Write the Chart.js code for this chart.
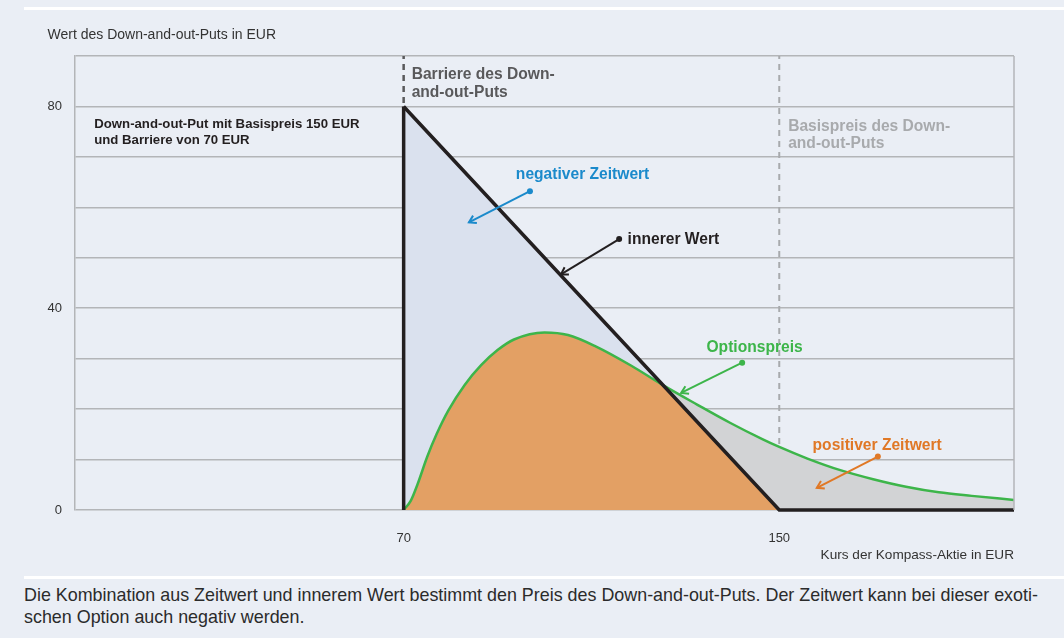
<!DOCTYPE html>
<html>
<head>
<meta charset="utf-8">
<script src="https://cdn.jsdelivr.net/npm/chart.js@4.4.0/dist/chart.umd.min.js"></script>
<style>
  html, body { margin: 0; padding: 0; background: #eaeef5; }
  body { width: 1064px; height: 638px; position: relative; overflow: hidden; font-family: "Liberation Sans", Arial, sans-serif; }
  .rule { position: absolute; left: 24px; right: 0; height: 3px; background: #fff; }
  #wrap { position: absolute; left: 0; top: 0; width: 1064px; height: 575px; }
  #caption { position: absolute; left: 24px; top: 584px; font-size: 17.9px; line-height: 22px; color: #2b2b2b; white-space: nowrap; }
</style>
</head>
<body>
<div class="rule" style="top:7px"></div>
<div id="wrap"><canvas id="chart"></canvas></div>
<div class="rule" style="top:576px"></div>
<div id="caption">Die Kombination aus Zeitwert und innerem Wert bestimmt den Preis des Down-and-out-Puts. Der Zeitwert kann bei dieser exoti-<br>schen Option auch negativ werden.</div>
<script>
// values (Kurs in EUR / Wert in EUR)
const innerX = [70, 150, 200];
const innerY = [80, 0, 0];
const barrierX = [70, 70];
const barrierY = [0, 80];
const optionX = [70, 71.5, 73, 75, 77, 79.5, 83, 86.5, 90, 93.5, 100, 105, 111, 118.5, 125.5, 132.5, 139.5, 146.5, 150, 156, 163, 170, 177, 184, 191, 200];
const optionY = [0, 1.8, 5.2, 10.5, 15, 19.7, 24.8, 28.7, 31.7, 33.8, 35.2, 34.7, 32.4, 28.6, 24.6, 20.9, 17.3, 14.0, 12.5, 10.2, 7.9, 6.1, 4.6, 3.5, 2.8, 2.0];
const barrierLevel = 70;
const strikeLevel = 150;
const xTicks = [70, 150];
const yTicks = [0, 40, 80];
const xRange = [0, 200];
const yRange = [0, 90];

const FONT = '"Liberation Sans", Arial, sans-serif';
const gridColor = '#b3b5b8';

Chart.defaults.font.family = FONT;
Chart.defaults.color = '#333';

const pts = (xs, ys) => xs.map((x, i) => ({ x: x, y: ys[i] }));

function arrow(ctx, x0, y0, x1, y1, color) {
    ctx.strokeStyle = color;
    ctx.fillStyle = color;
    ctx.lineWidth = 2;
    ctx.beginPath();
    ctx.moveTo(x0, y0);
    ctx.lineTo(x1, y1);
    ctx.stroke();
    ctx.beginPath();
    ctx.arc(x0, y0, 3, 0, Math.PI * 2);
    ctx.fill();
    const ang = Math.atan2(y1 - y0, x1 - x0);
    const L = 8, s = 0.55;
    ctx.beginPath();
    ctx.moveTo(x1 - L * Math.cos(ang - s), y1 - L * Math.sin(ang - s));
    ctx.lineTo(x1, y1);
    ctx.lineTo(x1 - L * Math.cos(ang + s), y1 - L * Math.sin(ang + s));
    ctx.stroke();
}

// text labels, placed in data units
const notes = [
    { lines: ['Down-and-out-Put mit Basispreis 150 EUR', 'und Barriere von 70 EUR'], x: 4.1, y: 75.7, size: 13.2, lh: 15.5, color: '#231f20' },
    { lines: ['Barriere des Down-', 'and-out-Puts'], x: 71.7, y: 85.5, size: 15.6, lh: 18.5, color: '#59595b' },
    { lines: ['Basispreis des Down-', 'and-out-Puts'], x: 151.9, y: 75.1, size: 15.6, lh: 17.3, color: '#a8aaad' },
    { lines: ['negativer Zeitwert'], x: 93.9, y: 65.7, size: 15.6, lh: 18, color: '#1b8acb' },
    { lines: ['innerer Wert'], x: 117.7, y: 52.7, size: 15.6, lh: 18, color: '#231f20' },
    { lines: ['Optionspreis'], x: 134.5, y: 31.4, size: 15.6, lh: 18, color: '#3db54a' },
    { lines: ['positiver Zeitwert'], x: 157.1, y: 11.9, size: 15.6, lh: 18, color: '#e07826' }
];
const arrows = [
    { from: [96.9, 63.2], to: [83.9, 57.0], color: '#1b8acb' },
    { from: [115.9, 53.7], to: [103.5, 46.7], color: '#231f20' },
    { from: [142.1, 29.2], to: [129.1, 23.2], color: '#3db54a' },
    { from: [171.0, 10.6], to: [158.0, 4.4], color: '#e07826' }
];

const annotate = {
    id: 'annotate',
    afterDraw(chart) {
        const { ctx, chartArea: a, scales: { x, y } } = chart;
        ctx.save();
        // right edge of the frame
        ctx.strokeStyle = gridColor;
        ctx.lineWidth = 1.5;
        ctx.beginPath();
        ctx.moveTo(a.right, a.top);
        ctx.lineTo(a.right, a.bottom);
        ctx.stroke();

        // axis titles
        ctx.fillStyle = '#333';
        ctx.font = '14px ' + FONT;
        ctx.textAlign = 'left';
        ctx.textBaseline = 'alphabetic';
        ctx.fillText('Wert des Down-and-out-Puts in EUR', 47.5, 38.5);
        ctx.font = '13.6px ' + FONT;
        ctx.textAlign = 'right';
        ctx.fillText('Kurs der Kompass-Aktie in EUR', a.right, 559);

        ctx.textAlign = 'left';
        notes.forEach(n => {
            ctx.font = 'bold ' + n.size + 'px ' + FONT;
            ctx.fillStyle = n.color;
            const px = x.getPixelForValue(n.x);
            const py = y.getPixelForValue(n.y);
            n.lines.forEach((t, i) => ctx.fillText(t, px, py + i * n.lh));
        });
        arrows.forEach(r => {
            arrow(ctx,
                x.getPixelForValue(r.from[0]), y.getPixelForValue(r.from[1]),
                x.getPixelForValue(r.to[0]), y.getPixelForValue(r.to[1]), r.color);
        });
        ctx.restore();
    }
};

new Chart(document.getElementById('chart'), {
    type: 'line',
    data: {
        datasets: [
            {
                label: 'innerer Wert',
                data: pts(innerX, innerY),
                borderColor: '#231f20',
                borderWidth: 3.5,
                fill: false,
                clip: false,
                order: 1
            },
            {
                label: 'Barriere',
                data: pts(barrierX, barrierY),
                borderColor: '#231f20',
                borderWidth: 3.5,
                fill: false,
                clip: false,
                order: 1
            },
            {
                label: 'Optionspreis',
                data: pts(optionX, optionY),
                borderColor: '#3db54a',
                borderWidth: 2.5,
                cubicInterpolationMode: 'monotone',
                fill: { target: 0, above: '#d2d3d5', below: '#dae1ee' },
                order: 3
            },
            {
                label: 'positiver Anteil',
                data: pts(innerX, innerY),
                borderColor: 'transparent',
                borderWidth: 0,
                backgroundColor: '#e3a064',
                fill: 'origin',
                order: 4
            },
            {
                label: 'Barriere Hilfslinie',
                data: pts([barrierLevel, barrierLevel], yRange),
                borderColor: '#59595b',
                borderWidth: 2.5,
                borderDash: [6, 5],
                fill: false,
                order: 5
            },
            {
                label: 'Basispreis Hilfslinie',
                data: pts([strikeLevel, strikeLevel], yRange),
                borderColor: '#a8aaad',
                borderWidth: 2,
                borderDash: [6, 5],
                fill: false,
                order: 6
            }
        ]
    },
    options: {
        responsive: true,
        maintainAspectRatio: false,
        animation: false,
        layout: { padding: { top: 56, right: 50, left: 0, bottom: 0 } },
        elements: { point: { radius: 0 }, line: { tension: 0 } },
        plugins: { legend: { display: false }, tooltip: { enabled: false } },
        scales: {
            x: {
                type: 'linear',
                min: xRange[0],
                max: xRange[1],
                grid: { display: false },
                border: { display: false },
                afterBuildTicks: s => { s.ticks = xTicks.map(v => ({ value: v })); },
                afterFit: s => { s.height = 65; },
                ticks: { autoSkip: false, maxRotation: 0, padding: 13, font: { size: 13 }, color: '#333' }
            },
            y: {
                min: yRange[0],
                max: yRange[1],
                grid: { color: gridColor, lineWidth: 1.5, drawTicks: false },
                border: { display: true, color: gridColor, width: 1.5 },
                afterFit: s => { s.width = 75; },
                ticks: {
                    stepSize: 10,
                    padding: 13,
                    font: { size: 13 },
                    color: '#333',
                    callback: v => yTicks.includes(v) ? String(v) : ''
                }
            }
        }
    },
    plugins: [annotate]
});
</script>
</body>
</html>
